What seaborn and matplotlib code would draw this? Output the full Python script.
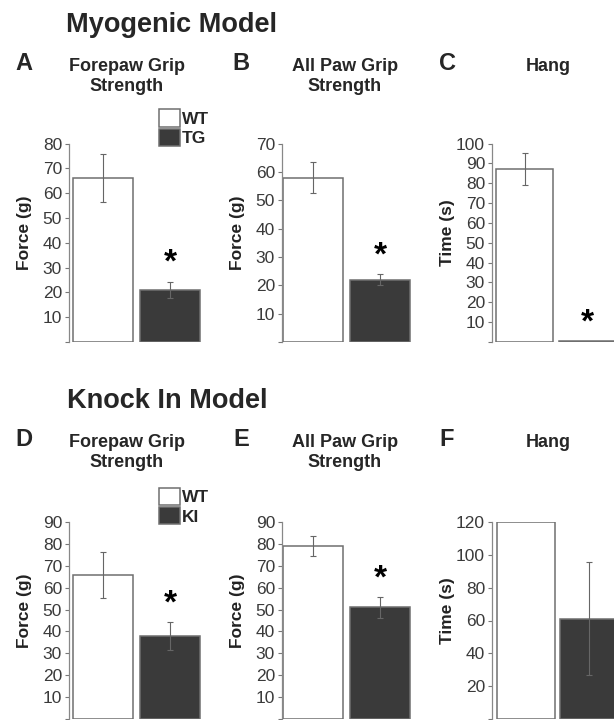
import pandas as pd
import matplotlib
matplotlib.use("Agg")
import matplotlib.pyplot as plt
from matplotlib.patches import Patch
import seaborn as sns

# values (mean +/- error)
panel_letters = ["A", "B", "C", "D", "E", "F"]
panel_titles = ["Forepaw Grip\nStrength", "All Paw Grip\nStrength", "Hang",
                "Forepaw Grip\nStrength", "All Paw Grip\nStrength", "Hang"]
y_labels = ["Force (g)", "Force (g)", "Time (s)",
            "Force (g)", "Force (g)", "Time (s)"]
y_max = [80, 70, 100, 90, 90, 120]
y_step = [10, 10, 10, 10, 10, 20]
mutant_names = ["TG", "TG", "TG", "KI", "KI", "KI"]
wt_means = [66, 58, 87, 66, 79, 120]
wt_errs = [9.7, 5.5, 8, 10.5, 4.7, 0]
mut_means = [21, 22, 0.5, 38, 51, 61]
mut_errs = [3.3, 2, 0, 6.3, 4.8, 34.5]
significant = [True, True, True, True, True, False]
row_titles = ["Myogenic Model", "Knock In Model"]

W, H = 614, 720
WHITE, DARK = "#ffffff", "#3a3a3a"

sns.set_theme(style="white")
plt.rcParams["font.family"] = ["Liberation Sans", "DejaVu Sans"]

fig = plt.figure(figsize=(W / 100, H / 100), dpi=100)

# layout in pixels: spine x, center of first bar, bar spacing, top, bottom
spine_x = [69, 282, 492, 69, 282, 492]
first_center = [103, 313, 524.5, 103, 313, 526]
spacing = [67, 67, 63, 67, 67, 63]
ax_top = [143.5, 143.5, 143.5, 522, 522, 522]
ax_bottom = [342, 342, 342, 719, 719, 719]

for i in range(6):
    off = (first_center[i] - spine_x[i]) / spacing[i]
    width_px = (1.5 + off) * spacing[i]
    ax = fig.add_axes([spine_x[i] / W, 1 - ax_bottom[i] / H,
                       width_px / W, (ax_bottom[i] - ax_top[i]) / H])
    df = pd.DataFrame({"group": ["WT", mutant_names[i]],
                       "value": [wt_means[i], mut_means[i]]})
    sns.barplot(data=df, x="group", y="value", hue="group",
                palette=[WHITE, DARK], width=0.91, errorbar=None,
                edgecolor="#6f6f6f", linewidth=1.1, legend=False, ax=ax)
    for p, m, e in zip(ax.patches, [wt_means[i], mut_means[i]],
                       [wt_errs[i], mut_errs[i]]):
        if e > 0:
            ax.errorbar(p.get_x() + p.get_width() / 2, m, yerr=e,
                        fmt="none", ecolor="#666666", elinewidth=0.8,
                        capsize=2, capthick=0.8)
    if significant[i]:
        top = mut_means[i] + mut_errs[i]
        ax.annotate("*", xy=(1, top), xytext=(0, 2),
                    textcoords="offset points", ha="center", va="bottom",
                    fontsize=24, fontweight="bold", color="black")
    ax.set_xlim(-off, 1.5)
    ax.set_ylim(0, y_max[i])
    ticks = list(range(0, y_max[i] + 1, y_step[i]))
    ax.set_yticks(ticks)
    ax.set_yticklabels([""] + [str(t) for t in ticks[1:]])
    ax.tick_params(axis="y", length=3, width=0.8, pad=2, labelsize=12.5,
                   labelcolor="#3a3a3a", color="#777777", left=True)
    ax.tick_params(axis="x", bottom=False, labelbottom=False)
    for s in ["top", "right", "bottom"]:
        ax.spines[s].set_visible(False)
    ax.spines["left"].set_color("#888888")
    ax.spines["left"].set_linewidth(0.9)
    ax.set_xlabel("")
    ax.set_ylabel(y_labels[i], fontsize=12.5, fontweight="bold",
                  color="#222222")
    ax.yaxis.set_label_coords(-37 / width_px, 0.55)

    row = i // 3
    base_y = [70, 446][row]
    letter_x = [24, 241, 447][i % 3]
    title_x = [127, 345, 548][i % 3]
    fig.text(letter_x / W, 1 - base_y / H, panel_letters[i], ha="center",
             va="baseline", fontsize=17, fontweight="bold")
    fig.text(title_x / W, 1 - (base_y - 12) / H, panel_titles[i],
             ha="center", va="top", fontsize=13, fontweight="bold",
             linespacing=1.25)

    if i % 3 == 0:
        handles = [Patch(facecolor=WHITE, edgecolor="#6f6f6f", linewidth=1.1),
                   Patch(facecolor=DARK, edgecolor="#6f6f6f", linewidth=1.1)]
        ax.legend(handles, ["WT", mutant_names[i]],
                  bbox_to_anchor=(159 / W, 1 - (ax_top[i] - 34) / H),
                  bbox_transform=fig.transFigure, loc="upper left",
                  frameon=False, borderpad=0, borderaxespad=0,
                  handlelength=1.2, handleheight=1.15, handletextpad=0.12,
                  labelspacing=0.1, prop={"weight": "bold", "size": 12.5})

fig.text(172 / W, 1 - 32 / H, row_titles[0], ha="center", va="baseline",
         fontsize=19.5, fontweight="bold")
fig.text(167 / W, 1 - 408 / H, row_titles[1], ha="center", va="baseline",
         fontsize=19.5, fontweight="bold")

fig.savefig("out.png", dpi=100)
